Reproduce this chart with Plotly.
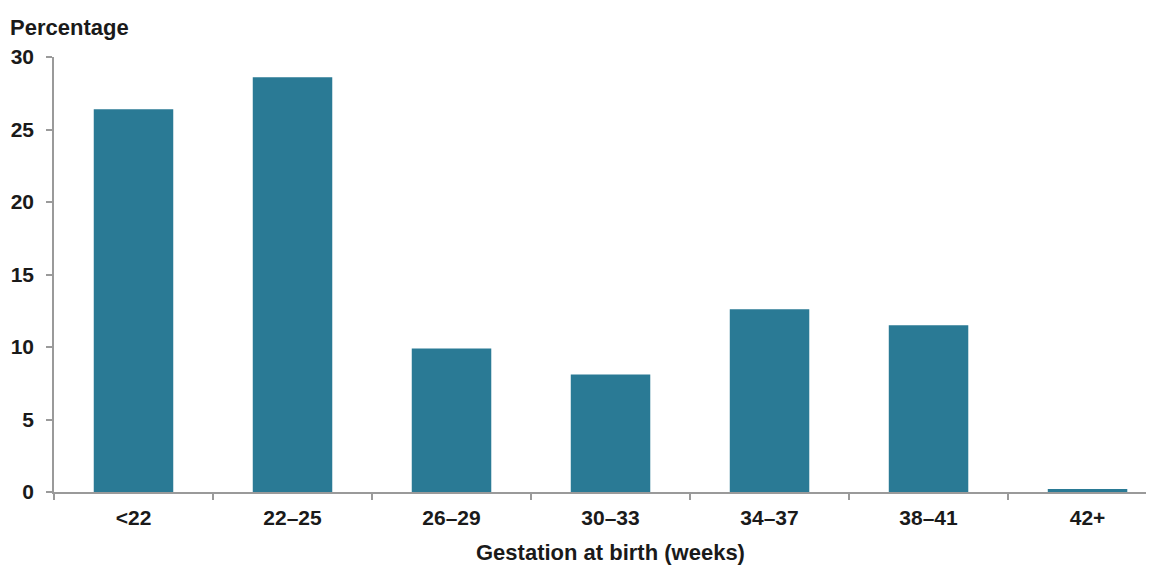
import plotly.graph_objects as go

categories = ["<22", "22–25", "26–29", "30–33", "34–37", "38–41", "42+"]
values = [26.4, 28.6, 9.9, 8.1, 12.6, 11.5, 0.2]
y_ticks = [0, 5, 10, 15, 20, 25, 30]

font_family = "Liberation Sans, Arial, sans-serif"
axis_color = "#9a9a9a"
text_color = "#1a1a1a"

W, H = 1146, 557
ML, MR, MT, MB = 46, 0, 49, 73
plot_w = W - ML - MR
plot_h = H - MT - MB

fig = go.Figure(
    go.Bar(
        x=categories,
        y=values,
        marker=dict(color="#2a7a95", line=dict(width=0)),
        width=0.5,
    )
)

fig.update_layout(
    width=W,
    height=H,
    margin=dict(l=ML, r=MR, t=MT, b=MB),
    paper_bgcolor="white",
    plot_bgcolor="white",
    showlegend=False,
    font=dict(family=font_family, color=text_color),
    annotations=[
        dict(
            text="Percentage",
            xref="paper", yref="paper",
            x=(0 - ML) / plot_w,
            y=(H - MB - 19) / plot_h,
            xanchor="left", yanchor="middle",
            showarrow=False,
            font=dict(size=22, family=font_family, color=text_color, weight="bold"),
        ),
        dict(
            text="Gestation at birth (weeks)",
            xref="x", yref="paper",
            x=categories[3],
            y=-(60) / plot_h,
            xanchor="center", yanchor="middle",
            showarrow=False,
            font=dict(size=22, family=font_family, color=text_color, weight="bold"),
        ),
    ],
)

fig.update_xaxes(
    type="category",
    range=[-0.5, 6.418],
    showline=True,
    linecolor=axis_color,
    linewidth=1.5,
    ticks="outside",
    tickson="boundaries",
    ticklen=6,
    tickcolor=axis_color,
    tickwidth=1.5,
    showgrid=False,
    tickfont=dict(size=21, family=font_family, color=text_color, weight="bold"),
    ticklabelstandoff=6,
)

fig.update_yaxes(
    range=[0, 30],
    tickvals=y_ticks,
    showline=True,
    linecolor=axis_color,
    linewidth=1.5,
    ticks="outside",
    ticklen=6,
    tickcolor=axis_color,
    tickwidth=1.5,
    showgrid=False,
    zeroline=False,
    tickfont=dict(size=21, family=font_family, color=text_color, weight="bold"),
    ticklabelstandoff=8,
)

fig.write_html("out.html")
